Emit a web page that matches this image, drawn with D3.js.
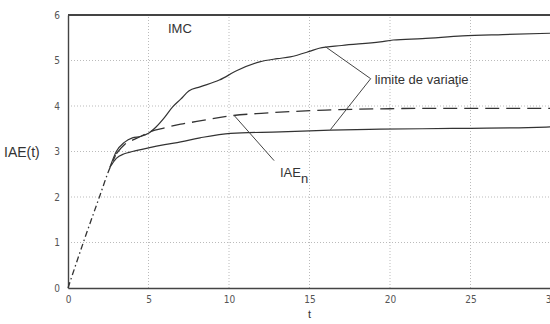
<!DOCTYPE html>
<html>
<head>
<meta charset="utf-8">
<script src="https://cdn.jsdelivr.net/npm/d3@7"></script>
<style>
  body { margin: 0; background: #fff; }
  .tick text { font-family: "Liberation Sans Narrow", "DejaVu Sans Condensed", sans-serif; font-size: 10px; fill: #555; }
  .lbl { font-family: "Liberation Sans", Arial, sans-serif; fill: #333; }
</style>
</head>
<body>
<div id="chart"></div>
<script>
// frame
const FRAME_WIDTH = 550;
const FRAME_HEIGHT = 324;
const MARGINS = {left: 68, right: -1, top: 15, bottom: 36};
const VIS_WIDTH = FRAME_WIDTH - MARGINS.left - MARGINS.right;
const VIS_HEIGHT = FRAME_HEIGHT - MARGINS.top - MARGINS.bottom;

// data
const x_ticks = [0, 5, 10, 15, 20, 25, 30];
const y_ticks = [0, 1, 2, 3, 4, 5, 6];

// common initial rise (dash-dot) + nominal curve
const t_nom   = [0, 1, 2, 2.5, 3, 3.5, 4, 4.5, 5, 6, 7, 8, 10, 12, 14, 16, 18, 20, 22, 25, 28, 30];
const iae_nom = [0, 1.05, 2.05, 2.55, 2.95, 3.15, 3.25, 3.33, 3.42, 3.52, 3.6, 3.66, 3.78, 3.84, 3.88, 3.91, 3.93, 3.94, 3.95, 3.95, 3.95, 3.95];

// upper limit
const t_up   = [2.6, 3, 3.5, 4, 4.5, 5, 5.5, 6, 6.5, 7, 7.5, 8.2, 9.4, 10.5, 11.9, 13, 13.8, 15, 15.6, 17, 19.4, 20.2, 22, 24.5, 27, 30];
const iae_up = [2.65, 3.0, 3.2, 3.3, 3.33, 3.4, 3.55, 3.75, 3.98, 4.15, 4.33, 4.42, 4.57, 4.78, 4.97, 5.04, 5.08, 5.2, 5.27, 5.33, 5.41, 5.45, 5.48, 5.54, 5.57, 5.6];

// lower limit
const t_low   = [2.6, 3, 3.5, 4, 5, 6, 7, 8.2, 10.1, 13.2, 16.3, 19.4, 22, 25, 28, 30];
const iae_low = [2.65, 2.85, 2.95, 3.0, 3.08, 3.15, 3.21, 3.3, 3.4, 3.43, 3.47, 3.49, 3.5, 3.51, 3.52, 3.54];

const FRAME = d3.select("#chart")
  .append("svg")
    .attr("width", FRAME_WIDTH)
    .attr("height", FRAME_HEIGHT);

const x = d3.scaleLinear().domain([0, 30]).range([MARGINS.left, MARGINS.left + VIS_WIDTH]);
const y = d3.scaleLinear().domain([0, 6]).range([MARGINS.top + VIS_HEIGHT, MARGINS.top]);

// dotted grid
FRAME.append("g")
  .selectAll("line")
  .data(x_ticks.filter(d => d > 0 && d < 30))
  .enter().append("line")
    .attr("x1", d => x(d)).attr("x2", d => x(d))
    .attr("y1", y(0)).attr("y2", y(6))
    .attr("stroke", "#aaa").attr("stroke-width", 0.8)
    .attr("stroke-dasharray", "1,2");

FRAME.append("g")
  .selectAll("line")
  .data(y_ticks.filter(d => d > 0 && d < 6))
  .enter().append("line")
    .attr("x1", x(0)).attr("x2", x(30))
    .attr("y1", d => y(d)).attr("y2", d => y(d))
    .attr("stroke", "#aaa").attr("stroke-width", 0.8)
    .attr("stroke-dasharray", "1,2");

// axes
const xAxis = FRAME.append("g")
  .attr("transform", "translate(0," + y(0) + ")")
  .call(d3.axisBottom(x).tickValues(x_ticks).tickFormat(d3.format("d")).tickSize(0).tickPadding(8));
xAxis.select(".domain").attr("stroke", "#444").attr("stroke-width", 1.4);

const yAxis = FRAME.append("g")
  .attr("transform", "translate(" + x(0) + ",0)")
  .call(d3.axisLeft(y).tickValues(y_ticks).tickFormat(d3.format("d")).tickSize(0).tickPadding(8));
yAxis.select(".domain").attr("stroke", "#444").attr("stroke-width", 1.4);

// top frame line
FRAME.append("line")
  .attr("x1", x(0)).attr("x2", x(30))
  .attr("y1", y(6)).attr("y2", y(6))
  .attr("stroke", "#444").attr("stroke-width", 1.8);

const line = d3.line()
  .x(d => x(d[0]))
  .y(d => y(d[1]))
  .curve(d3.curveMonotoneX);

// nominal curve (dash-dot start, dashes after)
const nom = d3.zip(t_nom, iae_nom);
FRAME.append("path")
  .datum(nom.filter(d => d[0] <= 3))
  .attr("fill", "none").attr("stroke", "#333").attr("stroke-width", 1.3)
  .attr("stroke-dasharray", "6,3,1.5,3")
  .attr("d", line);
FRAME.append("path")
  .datum(nom.filter(d => d[0] >= 3))
  .attr("fill", "none").attr("stroke", "#333").attr("stroke-width", 1.3)
  .attr("stroke-dasharray", "14,7")
  .attr("d", line);

// upper and lower limits
FRAME.append("path")
  .datum(d3.zip(t_up, iae_up))
  .attr("fill", "none").attr("stroke", "#333").attr("stroke-width", 1.2)
  .attr("d", line);

FRAME.append("path")
  .datum(d3.zip(t_low, iae_low))
  .attr("fill", "none").attr("stroke", "#333").attr("stroke-width", 1.2)
  .attr("d", line);

// annotation pointers
const tip = [x(18.8), y(4.6)];
FRAME.append("path")
  .attr("fill", "none").attr("stroke", "#444").attr("stroke-width", 1)
  .attr("d", d3.line()([[x(16), y(5.3)], tip, [x(16.3), y(3.48)]]));

FRAME.append("line")
  .attr("x1", x(10.3)).attr("y1", y(3.8))
  .attr("x2", x(12.8)).attr("y2", y(2.8))
  .attr("stroke", "#444").attr("stroke-width", 1);

// texts
FRAME.append("text").attr("class", "lbl")
  .attr("x", x(18.8) + 4).attr("y", y(4.6) + 5)
  .attr("font-size", 13).text("limite de variaţie");

FRAME.append("text").attr("class", "lbl")
  .attr("x", 168).attr("y", 33)
  .attr("font-size", 13).text("IMC");

const iae = FRAME.append("text").attr("class", "lbl")
  .attr("x", 280).attr("y", 177)
  .attr("font-size", 13);
iae.append("tspan").text("IAE");
iae.append("tspan").attr("dy", 6).attr("font-size", 13).text("n");

FRAME.append("text").attr("class", "lbl")
  .attr("x", 4).attr("y", y(3) + 5)
  .attr("font-size", 14).text("IAE(t)");

FRAME.append("text").attr("class", "lbl")
  .attr("x", x(15)).attr("y", 318)
  .attr("text-anchor", "middle")
  .attr("font-size", 11).text("t");
</script>
</body>
</html>
